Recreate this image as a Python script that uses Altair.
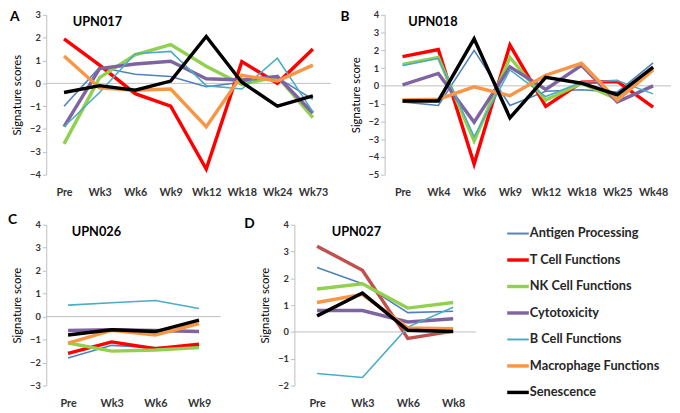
import altair as alt
import pandas as pd

SERIES = ["Antigen Processing", "T Cell Functions", "NK Cell Functions", "Cytotoxicity",
          "B Cell Functions", "Macrophage Functions", "Senescence"]
COLORS = ["#4F81BD", "#FF0000", "#92D050", "#8064A2", "#4BACC6", "#F79646", "#000000"]
WIDTHS = [1.6, 3.5, 3.5, 3.5, 1.6, 3.5, 3.5]
LEG_WIDTHS = [2, 3.5, 3.5, 3.5, 2, 3.5, 3.5]
D_TCELL_COLOR = "#C0504D"

# Panel A  (UPN017)
A_WEEKS = ["Pre", "Wk3", "Wk6", "Wk9", "Wk12", "Wk18", "Wk24", "Wk73"]
A_VALUES = {
    "Antigen Processing":   [-1.0, 0.7, 0.4, 0.3, -0.15, 0.05, 0.25, -0.7],
    "T Cell Functions":     [1.95, 0.8, -0.45, -1.0, -3.75, 0.95, 0.0, 1.5],
    "NK Cell Functions":    [-2.65, 0.25, 1.25, 1.7, 0.75, -0.05, 0.3, -1.5],
    "Cytotoxicity":         [-1.9, 0.65, 0.85, 0.97, 0.2, 0.15, 0.3, -1.3],
    "B Cell Functions":     [-1.9, -0.4, 1.3, 1.4, -0.1, -0.25, 1.1, -1.25],
    "Macrophage Functions": [1.2, -0.2, -0.3, -0.25, -1.9, 0.35, 0.1, 0.8],
    "Senescence":           [-0.4, -0.1, -0.3, 0.1, 2.05, 0.05, -1.0, -0.55],
}

# Panel B  (UPN018)
B_WEEKS = ["Pre", "Wk4", "Wk6", "Wk9", "Wk12", "Wk18", "Wk25", "Wk48"]
B_VALUES = {
    "Antigen Processing":   [-0.9, -1.1, 2.0, -1.1, -0.3, -0.22, -0.35, 1.3],
    "T Cell Functions":     [1.65, 2.05, -4.4, 2.3, -1.15, 0.2, 0.25, -1.2],
    "NK Cell Functions":    [1.2, 1.6, -3.1, 1.6, -0.8, 0.15, -0.75, 0.95],
    "Cytotoxicity":         [0.05, 0.7, -2.05, 1.07, -0.2, 1.16, -0.9, 0.0],
    "B Cell Functions":     [1.15, 1.55, -2.85, 0.9, -0.6, 0.2, 0.3, -0.45],
    "Macrophage Functions": [-0.8, -0.75, -0.05, -0.55, 0.6, 1.27, -0.8, 0.9],
    "Senescence":           [-0.85, -0.85, 2.65, -1.8, 0.48, 0.15, -0.5, 1.05],
}

# Panel C  (UPN026)
C_WEEKS = ["Pre", "Wk3", "Wk6", "Wk9"]
C_VALUES = {
    "Antigen Processing":   [-1.8, -1.25, -1.35, -1.3],
    "T Cell Functions":     [-1.6, -1.1, -1.4, -1.2],
    "NK Cell Functions":    [-1.15, -1.5, -1.45, -1.35],
    "Cytotoxicity":         [-0.6, -0.57, -0.6, -0.65],
    "B Cell Functions":     [0.5, 0.6, 0.7, 0.35],
    "Macrophage Functions": [-1.15, -0.6, -0.8, -0.3],
    "Senescence":           [-0.8, -0.57, -0.65, -0.15],
}

# Panel D  (UPN027)
D_WEEKS = ["Pre", "Wk3", "Wk6", "Wk8"]
D_VALUES = {
    "Antigen Processing":   [2.4, 1.8, 0.72, 0.77],
    "T Cell Functions":     [3.2, 2.3, -0.24, 0.03],
    "NK Cell Functions":    [1.6, 1.8, 0.89, 1.1],
    "Cytotoxicity":         [0.8, 0.8, 0.37, 0.49],
    "B Cell Functions":     [-1.55, -1.7, 0.18, 0.92],
    "Macrophage Functions": [1.1, 1.4, 0.15, 0.12],
    "Senescence":           [0.6, 1.45, 0.06, 0.02],
}

FONT = "Lato"
GRAY = "#BFBFBF"


def panel(letter, name, weeks, values, ylo, yhi, width, height, ytitle,
          letter_dx, letter_dy, title_dx, dark_tcell=False):
    rows = []
    for s, col, w in zip(SERIES, COLORS, WIDTHS):
        c = D_TCELL_COLOR if (dark_tcell and s == "T Cell Functions") else col
        for wk, v in zip(weeks, values[s]):
            rows.append({"week": wk, "value": v, "series": s, "c": c, "w": w})
    df = pd.DataFrame(rows)
    ticks = list(range(ylo, yhi + 1))

    x = alt.X("week:N", sort=weeks,
              scale=alt.Scale(type="point", padding=0.5),
              axis=alt.Axis(title=None, domain=False, ticks=False, labelAngle=0,
                            labelPadding=12, labelFont=FONT, labelFontSize=11,
                            labelFontWeight="bold", labelColor="#333333",
                            labelOverlap=False))
    yscale = alt.Scale(domain=[ylo, yhi], nice=False, zero=False)
    yaxis = alt.Axis(values=ticks, format="d", title=ytitle, grid=False,
                     titleFont=FONT, titleFontSize=11.5, titleFontWeight="normal",
                     titleColor="#000000", titlePadding=9,
                     labelFont=FONT, labelFontSize=9.5, labelFontWeight="bold",
                     labelColor="#333333", labelPadding=2, labelOverlap=False,
                     labelFlush=False,
                     tickSize=4, tickColor=GRAY, domainColor=GRAY,
                     minExtent=15, maxExtent=15)
    y = alt.Y("value:Q", scale=yscale, axis=yaxis)

    zero = alt.Chart(pd.DataFrame({"z": [0]})).mark_rule(
        color=GRAY, strokeWidth=1).encode(
        y=alt.YDatum(0, type="quantitative", scale=yscale, axis=yaxis))
    lines = alt.Chart(df).mark_line().encode(
        x=x, y=y,
        color=alt.Color("c:N", scale=None),
        strokeWidth=alt.StrokeWidth("w:Q", scale=None),
        detail="series:N")
    title = alt.Chart(pd.DataFrame({"t": [name]})).mark_text(
        align="left", baseline="middle", font=FONT, fontSize=13, fontWeight="bold",
        color="#000000").encode(text="t:N", x=alt.value(title_dx), y=alt.value(7))
    let = alt.Chart(pd.DataFrame({"t": [letter]})).mark_text(
        align="left", baseline="top", font=FONT, fontSize=14, fontWeight="bold",
        color="#000000").encode(text="t:N", x=alt.value(letter_dx),
                                y=alt.value(letter_dy))
    return alt.layer(zero, lines, title, let).properties(width=width, height=height)


pA = panel("A", "UPN017", A_WEEKS, A_VALUES, -4, 3, 290, 163, "Signature scores",
           -37, -5, 27)
pB = panel("B", "UPN018", B_WEEKS, B_VALUES, -5, 4, 292, 163, "Signature score",
           -45, -5, 24)
pC = panel("C", "UPN026", C_WEEKS, C_VALUES, -3, 4, 178, 164, "Signature score",
           -39, -12, 26)
pD = panel("D", "UPN027", D_WEEKS, D_VALUES, -2, 4, 185, 164, "Signature score",
           -51, -8, 38, dark_tcell=True)

leg_df = pd.DataFrame({"series": SERIES, "c": COLORS, "w": LEG_WIDTHS})
ly = alt.Y("series:N", sort=SERIES, axis=None,
           scale=alt.Scale(type="point", range=[9, 171], padding=0))
leg_lines = alt.Chart(leg_df).mark_rule().encode(
    y=ly, x=alt.value(8), x2=alt.value(30),
    color=alt.Color("c:N", scale=None),
    strokeWidth=alt.StrokeWidth("w:Q", scale=None))
leg_text = alt.Chart(leg_df).mark_text(
    align="left", baseline="middle", font=FONT, fontSize=13, fontWeight="bold",
    color="#262626").encode(y=ly, x=alt.value(31), text="series:N")
legend = alt.layer(leg_lines, leg_text).properties(width=155, height=164)

row1 = alt.hconcat(pA, pB, spacing=9)
row2 = alt.hconcat(pC, pD, legend, spacing=23)
chart = alt.vconcat(row1, row2, spacing=16).properties(
    padding={"left": 0, "top": -2, "right": 0, "bottom": 0}
).configure(font=FONT).configure_view(strokeWidth=0, stroke="transparent")

chart.save("out.html", embed_options={"renderer": "svg", "actions": False})
